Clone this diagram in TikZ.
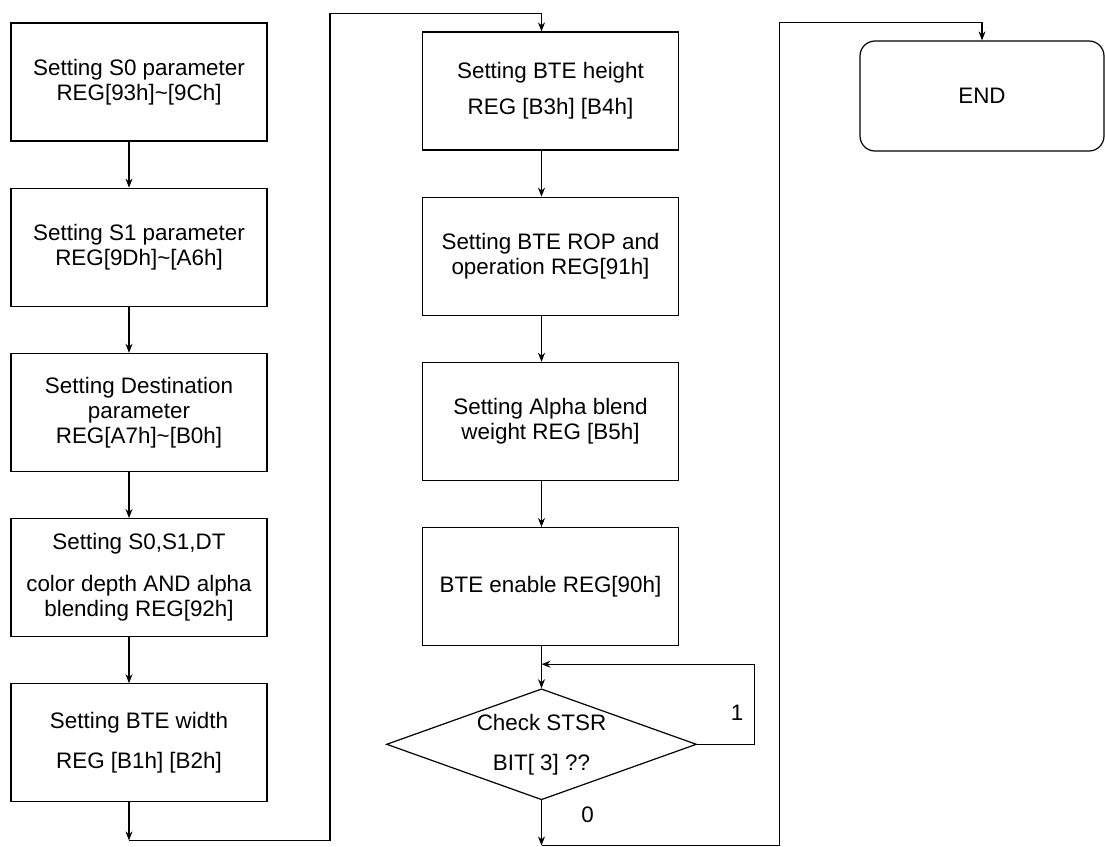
\documentclass[tikz,border=0pt]{standalone}
\usepackage{fontspec}
\setmainfont{Liberation Sans}
\usetikzlibrary{positioning, shapes.geometric, arrows.meta}

\begin{document}
\begin{tikzpicture}[>={Stealth[length=4.5pt,width=3.5pt]}, line width=0.6pt, every node/.style={font=\fontsize{11.2pt}{12.5pt}\selectfont, align=center}, box/.style={draw, minimum width=128pt, minimum height=59pt, inner sep=2pt}, node distance=23pt]
    \useasboundingbox (0,0) rectangle (552.5pt,-423.5pt);

    \node[box] (s0) at (69.5pt,-41pt) {Setting S0 parameter\\REG[93h]\textasciitilde[9Ch]};
    
    \node[box, below=of s0] (s1) {Setting S1 parameter\\REG[9Dh]\textasciitilde[A6h]};
    
    \node[box, below=of s1] (dst) {Setting Destination\\parameter\\REG[A7h]\textasciitilde[B0h]};
    
    \node[box, below=of dst] (depth) {Setting S0,S1,DT\\[8.5pt]color depth AND alpha\\blending REG[92h]};
    
    \node[box, below=of depth] (bwidth) {Setting BTE width\\[7.5pt]REG [B1h] [B2h]};

    \node[box] (bheight) at (275.25pt,-45.5pt) {Setting BTE height\\[5.5pt]REG [B3h] [B4h]};
    
    \node[box, below=of bheight] (rop) {Setting BTE ROP and\\operation REG[91h]};
    
    \node[box, below=of rop] (alpha) {Setting Alpha blend\\weight REG [B5h]};
    
    \node[box, below=of alpha] (enable) {BTE enable REG[90h]};
    
    \node[draw, diamond, shape aspect=2.8, below=21pt of enable, xshift=-4.5pt, minimum width=155pt, minimum height=55.5pt, inner sep=0pt] (check) {Check STSR\\[7.5pt]BIT[ 3] ??};

    \node[draw, rounded corners=7.5pt, minimum width=122pt, minimum height=55pt] (finish) at (491pt,-48pt) {END};

    \node (one) at ([shift={(20pt,16pt)}]check.east) {1};
    \node (zero) at ([shift={(23pt,-7pt)}]check.south) {0};

    \coordinate (loopin) at ([xshift=-4.5pt,yshift=-9pt]enable.south);
    \coordinate (lbend) at ([xshift=-5pt,yshift=-19pt]bwidth.south);
    \coordinate (ltop) at ([xshift=-4.5pt,yshift=9pt]bheight.north);
    \coordinate (rbend) at ([yshift=-22.5pt]check.south);
    \coordinate (rtop) at ([yshift=9pt]finish.north);

    \draw[->] ([xshift=-5pt]s0.south) -- ([xshift=-5pt]s1.north);
    \draw[->] ([xshift=-5pt]s1.south) -- ([xshift=-5pt]dst.north);
    \draw[->] ([xshift=-5pt]dst.south) -- ([xshift=-5pt]depth.north);
    \draw[->] ([xshift=-5pt]depth.south) -- ([xshift=-5pt]bwidth.north);
    \draw[->] ([xshift=-5pt]bwidth.south) -- (lbend);
    \draw[->] (lbend) -- ++(100.5pt,0) |- (ltop) -- ([xshift=-4.5pt]bheight.north);
    \draw[->] ([xshift=-4.5pt]bheight.south) -- ([xshift=-4.5pt]rop.north);
    \draw[->] ([xshift=-4.5pt]rop.south) -- ([xshift=-4.5pt]alpha.north);
    \draw[->] ([xshift=-4.5pt]alpha.south) -- ([xshift=-4.5pt]enable.north);
    \draw[->] ([xshift=-4.5pt]enable.south) -- (check.north);
    \draw[->] (check.east) -- ++(28.5pt,0) |- (loopin);
    \draw[->] (check.south) -- (rbend);
    \draw[->] (rbend) -- ++(119pt,0) |- (rtop) -- (finish.north);
\end{tikzpicture}
\end{document}
